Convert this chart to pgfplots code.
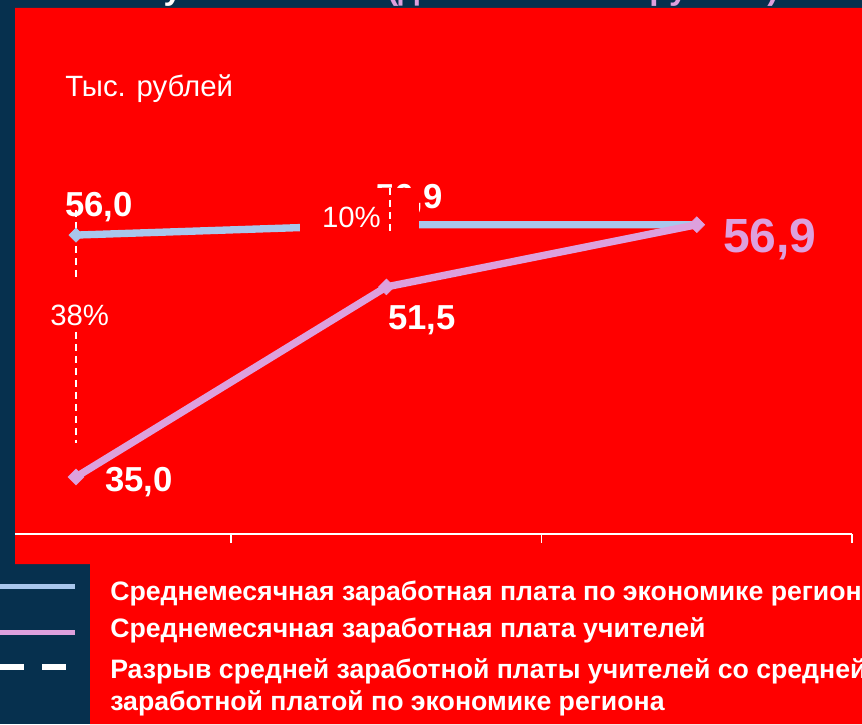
\documentclass[border=0pt]{standalone}
\usepackage{fontspec}
\setmainfont{Liberation Sans}
\usepackage{pgfplots}
\pgfplotsset{compat=1.18}

\definecolor{navy}{RGB}{6,48,78}
\definecolor{slred}{RGB}{255,0,0}
\definecolor{econ}{RGB}{169,198,236}
\definecolor{teach}{RGB}{221,160,221}

\newcommand\lab{\fontsize{26}{30}\selectfont\bfseries}
\newcommand\pct{\fontsize{22}{26}\selectfont}
\newcommand\leg{\fontsize{20}{24}\selectfont\bfseries}
\tikzset{lbl/.style={inner sep=0pt, anchor=base west}}

\begin{document}
\begin{tikzpicture}[x=0.75pt,y=0.75pt]
\path[use as bounding box, clip] (0,0) rectangle (862,724);
\fill[navy] (0,0) rectangle (862,724);

% title, cut off by the top edge
\node[lbl, text=white, font=\fontsize{25}{30}\selectfont\bfseries] at (93,724) {Все учителя};
\node[lbl, text=teach, font=\fontsize{25}{30}\selectfont\bfseries] at (387,724) {(данные в тыс. рублей)};

% red panel
\fill[slred] (15,716) -- (862,716) -- (862,0) -- (90,0) -- (90,160) -- (15,160) -- cycle;

% legend
\draw[econ, line width=3.75pt] (0,138) -- (75,138);
\draw[teach, line width=3.75pt] (0,92) -- (75,92);
\draw[white, line width=4.5pt] (0,57) -- (24,57) (42,57) -- (66,57);
\node[lbl, text=white, font=\leg] at (110,124)
  {Среднемесячная заработная плата по экономике региона};
\node[lbl, text=white, font=\leg] at (110,87)
  {Среднемесячная заработная плата учителей};
\node[lbl, text=white, font=\leg] at (110,46)
  {Разрыв средней заработной платы учителей со средней};
\node[lbl, text=white, font=\leg] at (110,14)
  {заработной платой по экономике региона};

\begin{axis}[
  at={(11.25pt,142.5pt)}, anchor=south west,
  scale only axis, width=627.75pt, height=258.75pt,
  xmin=-0.1965, xmax=2.5, ymin=30.05, ymax=60,
  clip=false,
  axis x line*=bottom, hide y axis,
  xtick={0.5,1.5,2.5}, xticklabels={},
  tick align=outside, major tick length=6.75pt,
  every tick/.style={white, line width=1.1pt},
  x axis line style={white, line width=1.1pt},
]
\addplot[econ, line width=5.5pt, mark=square*, mark size=3.75pt, mark indices={1},
  mark options={rotate=45, line width=0.4pt}]
  coordinates {(0,56.0)(1,56.9)(2,56.9)};

\node[lbl, text=white, font=\lab] at (axis cs:0.963,58.35) {56,9};
\fill[slred] (axis cs:0.721,55.14) rectangle (axis cs:1.105,60.09);
\draw[white, line width=1.5pt, dash pattern=on 5.5pt off 3.5pt]
  (axis cs:1.011,60.09) -- (axis cs:1.011,56.18);
\node[lbl, text=white, font=\pct] at (axis cs:0.792,56.70) {10\%};

\draw[white, line width=1.5pt, dash pattern=on 5.5pt off 3.5pt]
  (axis cs:0,58.18) -- (axis cs:0,51.93)
  (axis cs:0,47.59) -- (axis cs:0,37.95);
\node[lbl, text=white, font=\pct] at (axis cs:-0.0837,48.19) {38\%};

\addplot[teach, line width=5.5pt, mark=square*, mark size=4.2pt,
  mark options={rotate=45, line width=0.4pt}]
  coordinates {(0,35.0)(1,51.5)(2,56.9)};

\node[lbl, text=white, font=\lab] at (axis cs:-0.0354,57.57) {56,0};
\node[lbl, text=white, font=\lab] at (axis cs:0.0934,33.70) {35,0};
\node[lbl, text=white, font=\lab] at (axis cs:1.0048,47.76) {51,5};
\node[lbl, text=teach, font=\fontsize{36}{40}\selectfont\bfseries] at (axis cs:2.0837,54.53) {56,9};
\node[lbl, text=white, font=\pct] at (axis cs:-0.0354,67.99) {Тыс. рублей};
\end{axis}
\end{tikzpicture}
\end{document}
